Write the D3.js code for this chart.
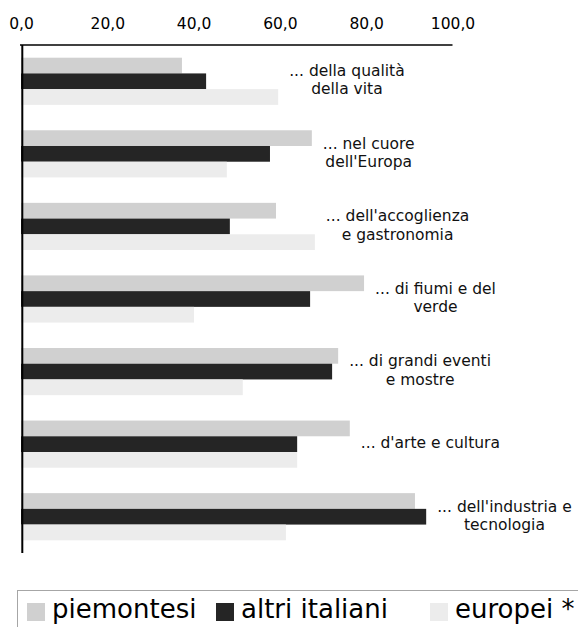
<!DOCTYPE html>
<html>
<head>
<meta charset="utf-8">
<script src="https://cdn.jsdelivr.net/npm/d3@7"></script>
<style>
  html, body { margin: 0; padding: 0; background: #fff; }
  svg { display: block; font-family: "DejaVu Sans", Verdana, sans-serif; }
</style>
</head>
<body>
<svg id="chart" width="578" height="627"></svg>
<script>
// Category labels (each entry is a list of text lines)
const categories = [
  ["... della qualità", "della vita"],
  ["... nel cuore", "dell'Europa"],
  ["... dell'accoglienza", "e gastronomia"],
  ["... di fiumi e del", "verde"],
  ["... di grandi eventi", "e mostre"],
  ["... d'arte e cultura"],
  ["... dell'industria e", "tecnologia"]
];
const seriesNames = ["piemontesi", "altri italiani", "europei *"];
const piemontesi    = [37.3, 67.4, 59.1, 79.5, 73.5, 76.2, 91.3];
const altriItaliani = [42.9, 57.7, 48.4, 67.0, 72.1, 64.0, 93.9];
const europei       = [59.6, 47.7, 68.1, 40.1, 51.4, 64.0, 61.4];
const tickValues = [0, 20, 40, 60, 80, 100];
const tickLabels = ["0,0", "20,0", "40,0", "60,0", "80,0", "100,0"];

const seriesValues = [piemontesi, altriItaliani, europei];
const colors = ["#d0d0d0", "#252525", "#ececec"];

const svg = d3.select("#chart");

const x = d3.scaleLinear().domain([0, 100]).range([21, 452.5]);
const y = d3.scaleBand()
  .domain(d3.range(categories.length))
  .range([45, 553])
  .paddingInner(0.35)
  .paddingOuter(0.175);
const ySub = d3.scaleBand()
  .domain(d3.range(seriesNames.length))
  .range([0, y.bandwidth()]);

// Bars
const groups = svg.append("g").selectAll("g")
  .data(categories.map((c, i) => ({ i, vals: seriesValues.map(s => s[i]) })))
  .join("g")
  .attr("transform", d => `translate(0,${y(d.i)})`);

groups.selectAll("rect")
  .data(d => d.vals.map((v, k) => ({ v, k })))
  .join("rect")
  .attr("x", x(0))
  .attr("y", d => ySub(d.k))
  .attr("width", d => x(d.v) - x(0))
  .attr("height", ySub.bandwidth())
  .attr("fill", d => colors[d.k]);

// Top axis (labels only) and frame lines
const axis = d3.axisTop(x)
  .tickValues(tickValues)
  .tickFormat((d, i) => tickLabels[i])
  .tickSize(0)
  .tickPadding(0);
const axisG = svg.append("g")
  .attr("transform", "translate(0,28.5)")
  .call(axis);
axisG.select(".domain").remove();
axisG.selectAll("text")
  .attr("font-family", "DejaVu Sans, Verdana, sans-serif")
  .attr("font-size", 15.5)
  .attr("fill", "#000")
  .attr("dy", 0);

svg.append("line")
  .attr("x1", x(0) - 1).attr("x2", x(100))
  .attr("y1", 45).attr("y2", 45)
  .attr("stroke", "#000").attr("stroke-width", 1.5);
svg.append("line")
  .attr("x1", 22.3).attr("x2", 22.3)
  .attr("y1", 45).attr("y2", 553)
  .attr("stroke", "#000").attr("stroke-width", 2);

// Category labels to the right of each group
const lineH = 18.3;
groups.each(function (d) {
  const g = d3.select(this);
  const lines = categories[d.i];
  const maxEnd = x(d3.max(d.vals));
  const cy = y.bandwidth() / 2 + 4;
  const t = g.append("text")
    .attr("text-anchor", "middle")
    .attr("font-size", 15.5)
    .attr("fill", "#111");
  lines.forEach((ln, j) => {
    t.append("tspan")
      .attr("y", cy + (j - (lines.length - 1) / 2) * lineH)
      .text(ln);
  });
  let maxW = 0;
  t.selectAll("tspan").each(function () {
    maxW = Math.max(maxW, this.getComputedTextLength());
  });
  const cx = maxEnd + 11 + maxW / 2;
  t.selectAll("tspan").attr("x", cx);
});

// Legend
const legend = svg.append("g");
legend.append("rect")
  .attr("x", 17.5).attr("y", 590.5)
  .attr("width", 600).attr("height", 60)
  .attr("fill", "#fff")
  .attr("stroke", "#a6a6a6").attr("stroke-width", 1);
const legendX = [27, 216, 430];
seriesNames.forEach((name, k) => {
  legend.append("rect")
    .attr("x", legendX[k]).attr("y", 603)
    .attr("width", 18).attr("height", 18)
    .attr("fill", colors[k]);
  legend.append("text")
    .attr("x", legendX[k] + 25).attr("y", 618)
    .attr("font-size", 26)
    .attr("fill", "#000")
    .text(name);
});
</script>
</body>
</html>
